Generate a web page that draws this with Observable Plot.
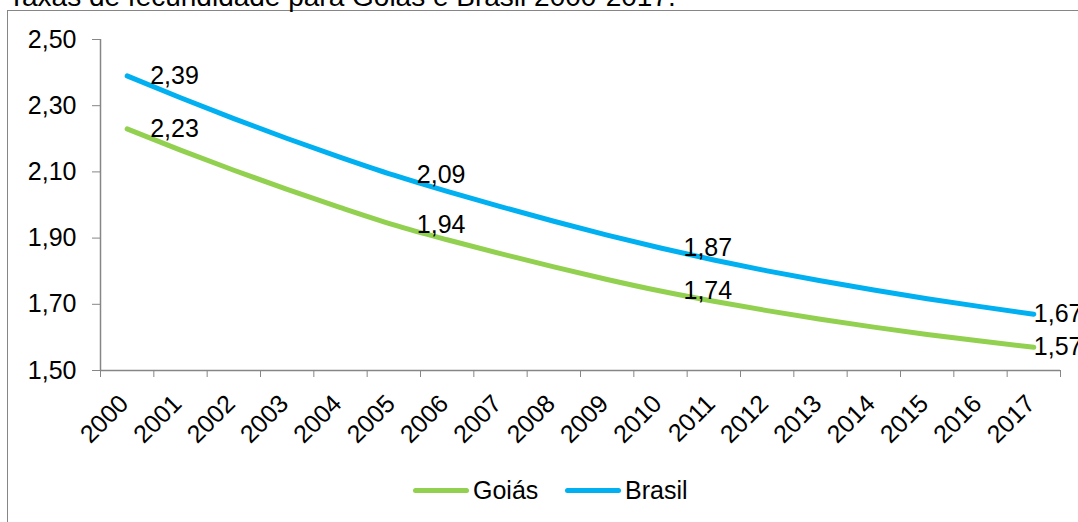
<!DOCTYPE html>
<html><head><meta charset="utf-8">
<script src="https://cdn.jsdelivr.net/npm/d3@7"></script>
<script src="https://cdn.jsdelivr.net/npm/@observablehq/plot@0.6"></script>
<style>
body{margin:0;width:1078px;height:522px;overflow:hidden;position:relative;font-family:"Liberation Sans",Arial,sans-serif;background:#fff}
#box{position:absolute;left:7px;top:10px;width:1200px;height:700px;border:1px solid #868686;box-sizing:border-box}
#title{position:absolute;left:8px;top:-17px;font-size:28px;line-height:28px;white-space:nowrap;color:#000}
#chart{position:absolute;left:0;top:0}
.sw{position:absolute;height:5px;width:56px;border-radius:3px}
.lt{position:absolute;font-size:25px;line-height:25px;color:#000;white-space:nowrap}
</style></head>
<body>
<div id="box"></div>
<div id="title">Taxas de fecundidade para Goiás e Brasil 2000-2017.</div>
<div id="chart"></div>
<div id="legend"></div>
<script>
const years = [2000,2001,2002,2003,2004,2005,2006,2007,2008,2009,2010,2011,2012,2013,2014,2015,2016,2017];
const goias = [2.230,2.166,2.105,2.047,1.992,1.940,1.895,1.853,1.813,1.775,1.740,1.709,1.681,1.655,1.631,1.609,1.589,1.570];
const brasil = [2.390,2.324,2.261,2.201,2.144,2.090,2.041,1.995,1.951,1.909,1.870,1.834,1.801,1.771,1.743,1.717,1.693,1.670];
const seriesNames = ["Goiás","Brasil"];
const seriesColors = ["#92D050","#00B0F0"];
const labelYears = [2000,2005,2010,2017];
const yTicks = [1.5,1.7,1.9,2.1,2.3,2.5];

const seriesValues = [goias, brasil];
const rows = [];
seriesNames.forEach((s, k) => years.forEach((yr, i) => rows.push({i, year: yr, series: s, v: seriesValues[k][i]})));
const fmt = v => d3.format(".2f")(v).replace(".", ",");
const n = years.length;
const lastYear = years[n - 1];

const plot = Plot.plot({
  width: 1078, height: 460,
  marginLeft: 100, marginRight: 18, marginTop: 39, marginBottom: 90,
  style: {fontFamily: '"Liberation Sans", Arial, sans-serif', fontSize: "25px", background: "transparent", overflow: "visible", color: "#000"},
  x: {type: "linear", domain: [-0.5, n - 0.5]},
  y: {domain: [1.5, 2.5]},
  color: {domain: seriesNames, range: seriesColors},
  marks: [
    Plot.axisY({ticks: yTicks, tickSize: 8, tickPadding: 16, tickFormat: fmt, stroke: "#868686", fill: "#000", label: null}),
    Plot.axisX({ticks: d3.range(n + 1).map(k => k - 0.5), tickSize: 7, tickFormat: () => "", stroke: "#868686", label: null}),
    Plot.axisX({ticks: d3.range(n), tickSize: 0, tickPadding: 29, tickRotate: -45, tickFormat: k => String(years[k]), fill: "#000", label: null, dx: -3}),
    Plot.ruleX([-0.5], {stroke: "#868686", strokeWidth: 1.5}),
    Plot.ruleY([1.5], {stroke: "#868686", strokeWidth: 1.5}),
    Plot.line(rows, {x: "i", y: "v", z: "series", stroke: "series", strokeWidth: 5, curve: "monotone-x", strokeLinecap: "round"}),
    Plot.text(rows.filter(d => labelYears.includes(d.year) && d.year !== lastYear), {x: "i", y: "v", text: d => fmt(d.v), textAnchor: "start", dx: 23, fill: "#000"}),
    Plot.text(rows.filter(d => d.year === lastYear), {x: "i", y: "v", text: d => fmt(d.v), textAnchor: "start", dx: 0, fill: "#000"})
  ]
});
document.getElementById("chart").appendChild(plot);

// legend
const legend = document.getElementById("legend");
const legendX = [413, 565];
const textX = [473, 625];
seriesNames.forEach((s, k) => {
  const sw = document.createElement("div");
  sw.className = "sw";
  sw.style.left = legendX[k] + "px";
  sw.style.top = "488px";
  sw.style.background = seriesColors[k];
  legend.appendChild(sw);
  const t = document.createElement("div");
  t.className = "lt";
  t.style.left = textX[k] + "px";
  t.style.top = "478px";
  t.textContent = s;
  legend.appendChild(t);
});
</script>
</body></html>
